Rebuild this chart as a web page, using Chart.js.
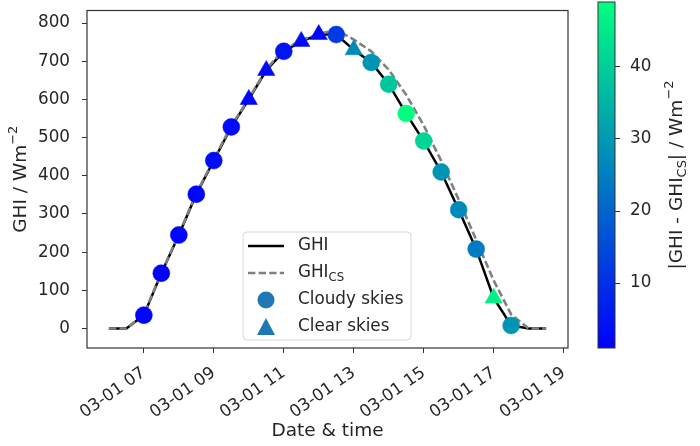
<!DOCTYPE html>
<html>
<head>
<meta charset="utf-8">
<script src="https://cdn.jsdelivr.net/npm/chart.js@4.4.1/dist/chart.umd.min.js"></script>
<style>
  html, body { margin: 0; padding: 0; background: #fff; }
  #wrap { position: relative; width: 700px; height: 446px; }
  #main { position: absolute; left: 0; top: 0; }
  #cbar { position: absolute; left: 570px; top: 0; }
</style>
</head>
<body>
<div id="wrap">
  <canvas id="main" width="700" height="446"></canvas>
  <canvas id="cbar" width="130" height="446"></canvas>
</div>
<script>
// half-hourly samples, hours of 03-01
const times = [6.0, 6.5, 7.0, 7.5, 8.0, 8.5, 9.0, 9.5, 10.0, 10.5, 11.0, 11.5, 12.0,
  12.5, 13.0, 13.5, 14.0, 14.5, 15.0, 15.5, 16.0, 16.5, 17.0, 17.5, 18.0, 18.5];
const ghi = [0, 0, 35, 145, 245, 352, 440, 528, 600, 676, 726, 752, 770,
  770, 730, 697, 640, 563, 491, 410, 311, 208, 80, 8, 0, 0];
const ghiCs = [0, 0, 37, 146, 247, 354, 443, 531, 602, 679, 731, 755, 772,
  782, 757, 726, 678, 612, 532, 439, 338, 232, 126, 37, 0, 0];
const sky = [null, null, "cloudy", "cloudy", "cloudy", "cloudy", "cloudy", "cloudy", "clear",
  "clear", "cloudy", "clear", "clear", "cloudy", "clear", "cloudy", "cloudy", "cloudy",
  "cloudy", "cloudy", "cloudy", "cloudy", "clear", "cloudy", null, null];

const xTicks = [7, 9, 11, 13, 15, 17, 19];
const yTicks = [0, 100, 200, 300, 400, 500, 600, 700, 800];
const cbTicks = [10, 20, 30, 40];

const FONT = "DejaVu Sans";
const TEXT = "#262626";
const AXIS = "#333333";

function markerPoints(kind) {
  const pts = [];
  times.forEach((t, i) => {
    if (sky[i] === kind) pts.push({ x: t, y: ghi[i], d: Math.abs(ghi[i] - ghiCs[i]) });
  });
  return pts;
}

const cloudyPts = markerPoints("cloudy");
const clearPts = markerPoints("clear");
const allDiffs = cloudyPts.concat(clearPts).map((p) => p.d);
const cbMin = Math.min(...allDiffs);
const cbMax = Math.max(...allDiffs);

// matplotlib "winter" colormap
function winter(d) {
  const t = Math.max(0, Math.min(1, (d - cbMin) / (cbMax - cbMin)));
  return `rgb(0, ${Math.round(255 * t)}, ${Math.round(255 * (1 - 0.5 * t))})`;
}

// text with sub/superscript parts: [text, ""|"sub"|"sup"]
function drawRich(ctx, parts, x, y, size, align, rotate) {
  const fontFor = (k) => `${k ? size * 0.7 : size}px "${FONT}"`;
  let total = 0;
  parts.forEach(([t, k]) => { ctx.font = fontFor(k); total += ctx.measureText(t).width; });
  ctx.save();
  ctx.translate(x, y);
  if (rotate) ctx.rotate(-Math.PI / 2);
  ctx.fillStyle = TEXT;
  ctx.textBaseline = "middle";
  ctx.textAlign = "left";
  let cx = align === "center" ? -total / 2 : 0;
  parts.forEach(([t, k]) => {
    ctx.font = fontFor(k);
    const dy = k === "sub" ? size * 0.28 : k === "sup" ? -size * 0.38 : 0;
    ctx.fillText(t, cx, dy);
    cx += ctx.measureText(t).width;
  });
  ctx.restore();
}

function fixPad(scale) {
  scale.paddingTop = 0;
  scale.paddingBottom = 0;
  scale.paddingLeft = 0;
  scale.paddingRight = 0;
}

const decorPlugin = {
  id: "decor",
  afterDatasetsDraw(chart) {
    const { ctx, chartArea: a } = chart;
    // frame
    ctx.save();
    ctx.strokeStyle = AXIS;
    ctx.lineWidth = 1.2;
    ctx.strokeRect(a.left, a.top, a.right - a.left, a.bottom - a.top);

    // legend box
    const lx = a.left + 156, ly = a.bottom - 116, lw = 168, lh = 108;
    ctx.beginPath();
    ctx.roundRect(lx, ly, lw, lh, 4);
    ctx.fillStyle = "rgba(255,255,255,0.85)";
    ctx.fill();
    ctx.strokeStyle = "#d6d6d6";
    ctx.lineWidth = 1;
    ctx.stroke();

    const hx0 = lx + 5, hx1 = lx + 41, mx = lx + 23, tx = lx + 55;
    const rows = [ly + 14, ly + 41, ly + 68, ly + 95];
    ctx.lineWidth = 2.5;
    ctx.strokeStyle = "#000";
    ctx.beginPath(); ctx.moveTo(hx0, rows[0]); ctx.lineTo(hx1, rows[0]); ctx.stroke();
    ctx.strokeStyle = "#808080";
    ctx.lineWidth = 2.5;
    ctx.setLineDash([7.4, 3.2]);
    ctx.beginPath(); ctx.moveTo(hx0, rows[1]); ctx.lineTo(hx1, rows[1]); ctx.stroke();
    ctx.setLineDash([]);
    ctx.fillStyle = "#1f77b4";
    ctx.beginPath(); ctx.arc(mx, rows[2], 8.5, 0, Math.PI * 2); ctx.fill();
    ctx.beginPath();
    ctx.moveTo(mx, rows[3] - 9);
    ctx.lineTo(mx - 9, rows[3] + 8);
    ctx.lineTo(mx + 9, rows[3] + 8);
    ctx.closePath();
    ctx.fill();
    ctx.restore();

    drawRich(ctx, [["GHI", ""]], tx, rows[0], 16.8, "left");
    drawRich(ctx, [["GHI", ""], ["CS", "sub"]], tx, rows[1], 16.8, "left");
    drawRich(ctx, [["Cloudy skies", ""]], tx, rows[2], 16.8, "left");
    drawRich(ctx, [["Clear skies", ""]], tx, rows[3], 16.8, "left");

    // y axis title
    drawRich(ctx, [["GHI / Wm", ""], ["\u22122", "sup"]], a.left - 66,
      (a.top + a.bottom) / 2, 18.5, "center", true);
  },
};

new Chart(document.getElementById("main"), {
  type: "scatter",
  data: {
    datasets: [
      {
        label: "Cloudy skies",
        data: cloudyPts,
        pointStyle: "circle",
        pointRadius: 8.5,
        pointBorderWidth: 0.5,
        backgroundColor: (c) => winter(c.raw ? c.raw.d : cbMin),
        borderColor: (c) => winter(c.raw ? c.raw.d : cbMin),
        order: 0,
      },
      {
        label: "Clear skies",
        data: clearPts,
        pointStyle: "triangle",
        pointRadius: 10,
        pointBorderWidth: 0.5,
        backgroundColor: (c) => winter(c.raw ? c.raw.d : cbMin),
        borderColor: (c) => winter(c.raw ? c.raw.d : cbMin),
        order: 0,
      },
      {
        label: "GHIcs",
        data: times.map((t, i) => ({ x: t, y: ghiCs[i] })),
        showLine: true,
        borderColor: "#808080",
        borderWidth: 2.6,
        borderDash: [7.4, 3.2],
        pointRadius: 0,
        order: 1,
      },
      {
        label: "GHI",
        data: times.map((t, i) => ({ x: t, y: ghi[i] })),
        showLine: true,
        borderColor: "#000000",
        borderWidth: 2.5,
        pointRadius: 0,
        order: 2,
      },
    ],
  },
  options: {
    responsive: false,
    animation: false,
    events: [],
    layout: { padding: { top: 2, right: 132, left: 0, bottom: 0 } },
    plugins: { legend: { display: false }, tooltip: { enabled: false } },
    scales: {
      x: {
        type: "linear",
        min: 5.375,
        max: 19.125,
        afterBuildTicks: (s) => { s.ticks = xTicks.map((v) => ({ value: v })); },
        afterFit: (s) => { s.height = 98; fixPad(s); },
        border: { display: false },
        grid: { drawOnChartArea: false, drawTicks: true, tickLength: 5, color: AXIS },
        ticks: {
          autoSkip: false,
          minRotation: 35,
          maxRotation: 35,
          padding: 10,
          color: TEXT,
          font: { family: FONT, size: 16.8 },
          callback: (v) => "03-01 " + String(v).padStart(2, "0"),
        },
        title: {
          display: true,
          text: "Date & time",
          color: TEXT,
          font: { family: FONT, size: 18.5 },
          padding: { top: 0, bottom: 4 },
        },
      },
      y: {
        min: -51,
        max: 833,
        afterBuildTicks: (s) => { s.ticks = yTicks.map((v) => ({ value: v })); },
        afterFit: (s) => { s.width = 87; fixPad(s); },
        border: { display: false },
        grid: { drawOnChartArea: false, drawTicks: true, tickLength: 5, color: AXIS },
        ticks: {
          padding: 12,
          color: TEXT,
          font: { family: FONT, size: 16.8 },
        },
      },
    },
  },
  plugins: [decorPlugin],
});

const cbarPlugin = {
  id: "cbarFill",
  beforeDatasetsDraw(chart) {
    const { ctx, chartArea: a } = chart;
    const y = chart.scales.y;
    const g = ctx.createLinearGradient(0, y.getPixelForValue(cbMin), 0, y.getPixelForValue(cbMax));
    g.addColorStop(0, winter(cbMin));
    g.addColorStop(1, winter(cbMax));
    ctx.save();
    ctx.fillStyle = g;
    ctx.fillRect(a.left, a.top, a.right - a.left, a.bottom - a.top);
    ctx.strokeStyle = AXIS;
    ctx.lineWidth = 1;
    ctx.strokeRect(a.left, a.top, a.right - a.left, a.bottom - a.top);
    ctx.restore();
    drawRich(ctx, [["|GHI - GHI", ""], ["CS", "sub"], ["| / Wm", ""], ["\u22122", "sup"]],
      a.right + 62, (a.top + a.bottom) / 2, 18.5, "center", true);
  },
};

new Chart(document.getElementById("cbar"), {
  type: "scatter",
  data: { datasets: [] },
  options: {
    responsive: false,
    animation: false,
    events: [],
    layout: { padding: { top: 2, left: 28, bottom: 98, right: 0 } },
    plugins: { legend: { display: false }, tooltip: { enabled: false } },
    scales: {
      x: { display: false },
      y: {
        position: "right",
        min: cbMin,
        max: cbMax,
        afterBuildTicks: (s) => { s.ticks = cbTicks.map((v) => ({ value: v })); },
        afterFit: (s) => { s.width = 85; fixPad(s); },
        border: { display: false },
        grid: { drawOnChartArea: false, drawTicks: true, tickLength: 5, color: AXIS },
        ticks: {
          padding: 10,
          color: TEXT,
          font: { family: FONT, size: 16.8 },
        },
      },
    },
  },
  plugins: [cbarPlugin],
});
</script>
</body>
</html>
